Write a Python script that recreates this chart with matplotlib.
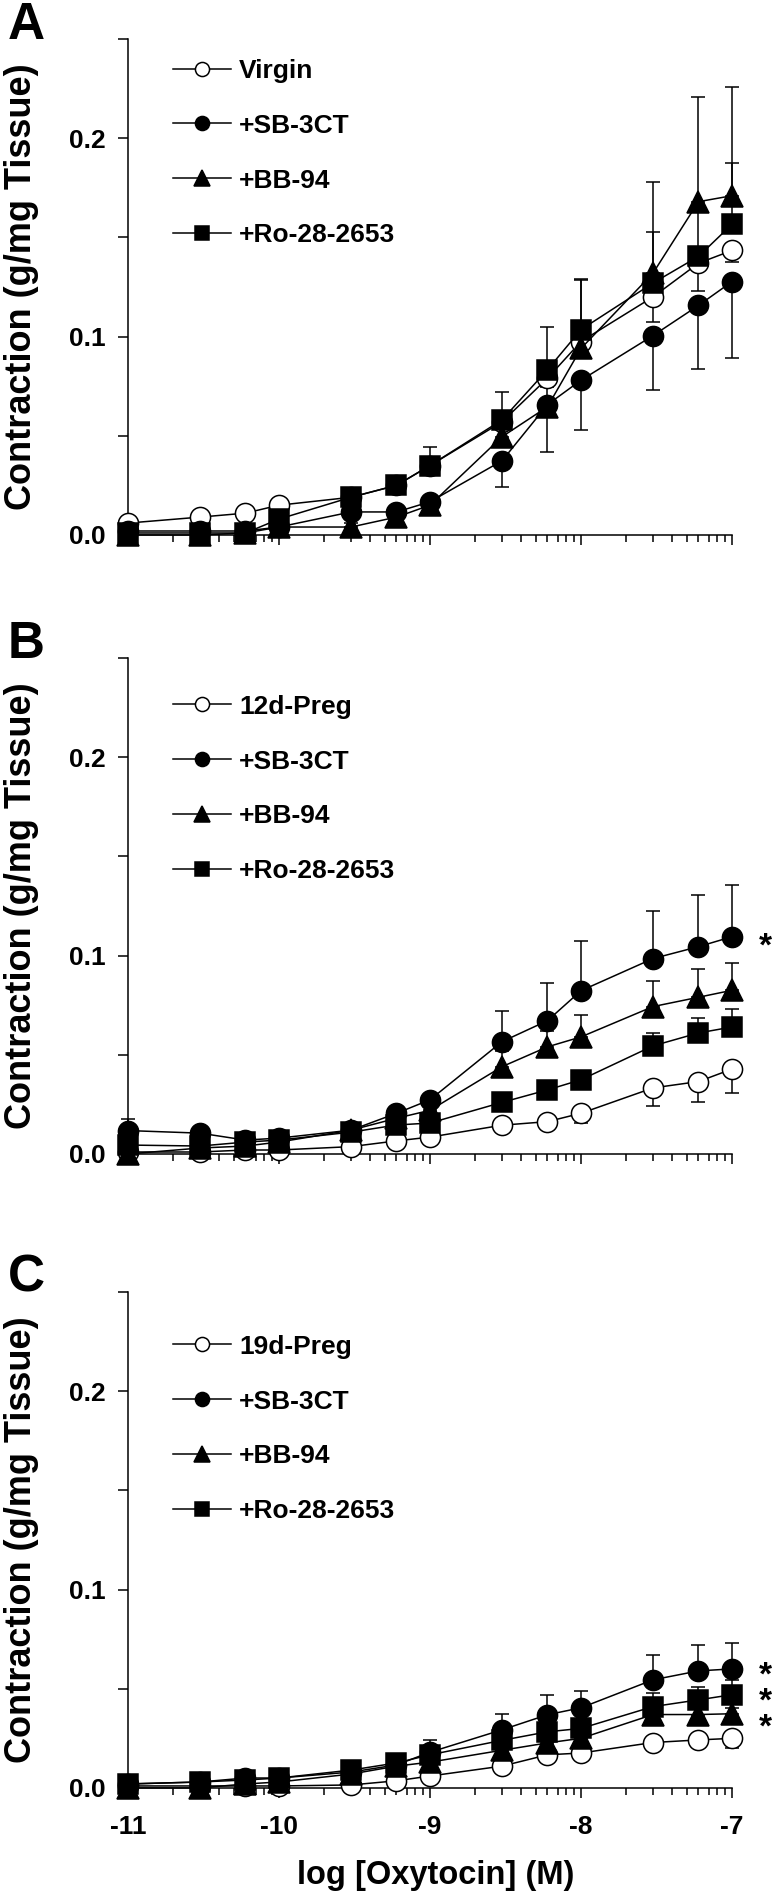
import numpy as np
import matplotlib
matplotlib.use('Agg')
import matplotlib.pyplot as plt
from matplotlib.ticker import FixedLocator, FuncFormatter, NullFormatter
from matplotlib.transforms import blended_transform_factory

plt.rcParams['font.family'] = ['Liberation Sans', 'DejaVu Sans']
plt.rcParams['font.weight'] = 'bold'

# oxytocin concentrations (M)
conc = [1e-11, 3e-11, 6e-11, 1e-10, 3e-10, 6e-10, 1e-9, 3e-9, 6e-9, 1e-8, 3e-8, 6e-8, 1e-7]

drug_labels = ['+SB-3CT', '+BB-94', '+Ro-28-2653']

# ---- panel A: virgin
a_ctrl = [0.006, 0.009, 0.011, 0.015, 0.019, 0.025, 0.035, 0.057, 0.079, 0.0975, 0.120, 0.137, 0.1434]
a_ctrl_sem = [0.001, 0.001, 0.001, 0.001, 0.002, 0.002, 0.002, 0.003, 0.004, 0.004, 0.0125, 0.014, 0.006]
a_sb = [0.002, 0.002, 0.002, 0.004, 0.0116, 0.0116, 0.0167, 0.0374, 0.0657, 0.078, 0.1005, 0.1157, 0.1277]
a_sb_sem = [0.001, 0.001, 0.001, 0.001, 0.002, 0.002, 0.002, 0.0134, 0.024, 0.025, 0.0275, 0.032, 0.0387]
a_bb = [0.0, 0.0, 0.001, 0.004, 0.004, 0.009, 0.015, 0.0495, 0.0646, 0.094, 0.132, 0.168, 0.171]
a_bb_sem = [0.001, 0.001, 0.001, 0.001, 0.002, 0.002, 0.002, 0.008, 0.010, 0.035, 0.046, 0.0527, 0.055]
a_ro = [0.001, 0.001, 0.001, 0.008, 0.019, 0.025, 0.035, 0.058, 0.0833, 0.1035, 0.127, 0.1404, 0.1566]
a_ro_sem = [0.001, 0.001, 0.001, 0.001, 0.002, 0.002, 0.0095, 0.014, 0.0217, 0.025, 0.0255, 0.025, 0.031]

# ---- panel B: 12 day pregnant
b_ctrl = [0.001, 0.001, 0.002, 0.002, 0.0037, 0.0066, 0.0085, 0.0145, 0.0163, 0.0205, 0.0333, 0.0365, 0.0428]
b_ctrl_sem = [0.001, 0.001, 0.001, 0.001, 0.001, 0.001, 0.001, 0.002, 0.002, 0.005, 0.009, 0.0105, 0.012]
b_sb = [0.0118, 0.0105, 0.007, 0.008, 0.012, 0.0205, 0.0273, 0.0566, 0.0672, 0.0823, 0.0985, 0.1045, 0.1095]
b_sb_sem = [0.006, 0.002, 0.002, 0.002, 0.002, 0.003, 0.003, 0.0155, 0.019, 0.025, 0.024, 0.026, 0.026]
b_bb = [0.0, 0.003, 0.004, 0.006, 0.012, 0.018, 0.022, 0.044, 0.054, 0.059, 0.0743, 0.079, 0.0825]
b_bb_sem = [0.001, 0.001, 0.001, 0.001, 0.002, 0.002, 0.002, 0.008, 0.008, 0.011, 0.0127, 0.0144, 0.014]
b_ro = [0.0045, 0.004, 0.006, 0.007, 0.011, 0.0146, 0.0156, 0.026, 0.0323, 0.0374, 0.0545, 0.061, 0.064]
b_ro_sem = [0.001, 0.001, 0.001, 0.001, 0.002, 0.002, 0.002, 0.002, 0.002, 0.002, 0.0067, 0.0077, 0.009]

# ---- panel C: 19 day pregnant
c_ctrl = [0.001, 0.001, 0.001, 0.001, 0.0015, 0.0036, 0.006, 0.011, 0.0167, 0.0176, 0.0229, 0.0242, 0.025]
c_ctrl_sem = [0.001, 0.001, 0.001, 0.001, 0.001, 0.001, 0.001, 0.002, 0.003, 0.002, 0.004, 0.003, 0.005]
c_sb = [0.002, 0.003, 0.005, 0.005, 0.008, 0.0116, 0.018, 0.0293, 0.0369, 0.0404, 0.0545, 0.059, 0.060]
c_sb_sem = [0.001, 0.001, 0.001, 0.001, 0.002, 0.002, 0.006, 0.008, 0.010, 0.0086, 0.0127, 0.013, 0.0133]
c_bb = [0.0, 0.0, 0.002, 0.003, 0.007, 0.011, 0.013, 0.019, 0.0227, 0.025, 0.037, 0.037, 0.0374]
c_bb_sem = [0.001, 0.001, 0.001, 0.001, 0.002, 0.002, 0.003, 0.003, 0.003, 0.003, 0.003, 0.003, 0.003]
c_ro = [0.002, 0.003, 0.004, 0.005, 0.009, 0.0126, 0.0167, 0.024, 0.0283, 0.030, 0.041, 0.0444, 0.047]
c_ro_sem = [0.001, 0.001, 0.001, 0.001, 0.002, 0.002, 0.004, 0.003, 0.003, 0.003, 0.007, 0.0067, 0.0075]

# significance marks (y levels) at right edge
b_stars = [0.1095]
c_stars = [0.062, 0.0485, 0.0354]

markers = ['o', 'o', '^', 's']
msizes = [14.5, 14.5, 16, 14.5]
faces = ['white', 'black', 'black', 'black']

FIG_H = 18.93
AX_H = 0.262

decades = [1e-11, 1e-10, 1e-9, 1e-8, 1e-7]
minor_x = [k * d for d in decades[:-1] for k in range(2, 10)]


def y_fmt(v, pos):
    if abs(v * 10 - round(v * 10)) < 1e-9:
        return f'{v:.1f}'
    return ''


def draw_panel(ax, letter, ctrl_label, means, sems, err_dirs, legend_y, stars, bottom=False):
    labels = [ctrl_label] + drug_labels
    for i in range(4):
        m = np.array(means[i])
        s = np.array(sems[i])
        zero = np.zeros_like(s)
        yerr = [zero, s] if err_dirs[i] == 'up' else [s, zero]
        ax.errorbar(conc, m, yerr=yerr, fmt='none', ecolor='black', elinewidth=1.1,
                    capsize=5, capthick=1.1, clip_on=False, zorder=2)
    for i in range(4):
        ax.plot(conc, means[i], color='black', lw=1.1, marker=markers[i], ms=msizes[i],
                mfc=faces[i], mec='black', mew=1.1, clip_on=False, zorder=3 + i,
                label=labels[i])

    ax.set_xscale('log')
    ax.set_xlim(1e-11, 1e-7)
    ax.set_ylim(0, 0.25)
    ax.spines['top'].set_visible(False)
    ax.spines['right'].set_visible(False)
    for sp in ['left', 'bottom']:
        ax.spines[sp].set_linewidth(1.1)

    ax.xaxis.set_major_locator(FixedLocator(decades))
    ax.xaxis.set_minor_locator(FixedLocator(minor_x))
    ax.xaxis.set_major_formatter(FuncFormatter(lambda v, p: f'{int(round(np.log10(v)))}'))
    ax.xaxis.set_minor_formatter(NullFormatter())
    ax.yaxis.set_major_locator(FixedLocator([0, 0.05, 0.1, 0.15, 0.2, 0.25]))
    ax.yaxis.set_major_formatter(FuncFormatter(y_fmt))

    ax.tick_params(which='major', direction='out', length=7.2, width=1.1, labelsize=19)
    ax.tick_params(which='minor', direction='out', length=5, width=1.1)
    ax.tick_params(axis='y', pad=9)
    ax.tick_params(axis='x', pad=12)
    if not bottom:
        ax.tick_params(labelbottom=False)

    ax.set_ylabel('Contraction (g/mg Tissue)', fontsize=26, fontweight='bold', va='center')
    ax.yaxis.set_label_coords(-0.177, 0.5)

    ax.legend(loc='upper left', bbox_to_anchor=(0.0745, legend_y), frameon=False,
              borderpad=0, borderaxespad=0, handlelength=2.2, handletextpad=0.3,
              labelspacing=1.17, fontsize=19, numpoints=1, markerscale=0.7)

    ax.text(-0.199, 1.0, letter, transform=ax.transAxes, fontsize=37,
            fontweight='bold', ha='left', va='baseline')

    if stars:
        # one stacked text, line pitch matched to the data levels
        fs = 24
        pts_per_unit = AX_H * FIG_H * 72 / 0.25
        if len(stars) > 1:
            step = (stars[0] - stars[-1]) / (len(stars) - 1) * pts_per_unit
            ls = (step - 0.21 * fs) / (0.716 * fs)
        else:
            ls = 1.0
        trans = blended_transform_factory(ax.transAxes, ax.transData)
        ax.annotate('\n'.join(['*'] * len(stars)), xy=(1.056, stars[0]), xycoords=trans,
                    xytext=(0, 0.146 * fs), textcoords='offset points', fontsize=fs,
                    fontweight='bold', ha='center', va='top', linespacing=ls,
                    annotation_clip=False)


fig = plt.figure(figsize=(7.76, FIG_H), dpi=100)
ax_a = fig.add_axes([0.1649, 0.7174, 0.7784, AX_H])
ax_b = fig.add_axes([0.1649, 0.3904, 0.7784, AX_H])
ax_c = fig.add_axes([0.1649, 0.0555, 0.7784, AX_H])

draw_panel(ax_a, 'A', 'Virgin', [a_ctrl, a_sb, a_bb, a_ro],
           [a_ctrl_sem, a_sb_sem, a_bb_sem, a_ro_sem],
           ['down', 'down', 'up', 'up'], 0.960, [])
draw_panel(ax_b, 'B', '12d-Preg', [b_ctrl, b_sb, b_bb, b_ro],
           [b_ctrl_sem, b_sb_sem, b_bb_sem, b_ro_sem],
           ['down', 'up', 'up', 'up'], 0.926, b_stars)
draw_panel(ax_c, 'C', '19d-Preg', [c_ctrl, c_sb, c_bb, c_ro],
           [c_ctrl_sem, c_sb_sem, c_bb_sem, c_ro_sem],
           ['down', 'up', 'up', 'up'], 0.914, c_stars, bottom=True)

ax_c.set_xlabel('log [Oxytocin] (M)', fontsize=23.5, fontweight='bold', va='center')
ax_c.xaxis.set_label_coords(0.51, -0.176)

fig.savefig('out.png', dpi=100)
